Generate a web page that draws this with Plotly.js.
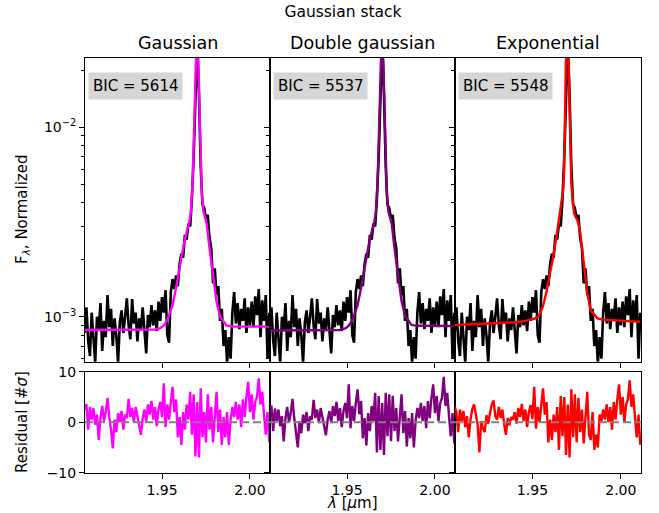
<!DOCTYPE html>
<html>
<head>
<meta charset="utf-8">
<script src="https://cdn.plot.ly/plotly-3.0.1.min.js"></script>
<style>
  body { margin: 0; background: white; }
  #chart { width: 659px; height: 513px; }
</style>
</head>
<body>
<div id="chart"></div>
<script>
'use strict';

// wavelength grid of the stacked spectrum (micron)
var lam = [
    1.906, 1.907, 1.908, 1.909, 1.910, 1.911, 1.912, 1.913, 1.914, 1.915,
    1.916, 1.917, 1.918, 1.919, 1.920, 1.921, 1.922, 1.923, 1.924, 1.925,
    1.926, 1.927, 1.928, 1.929, 1.930, 1.931, 1.932, 1.933, 1.934, 1.935,
    1.936, 1.937, 1.938, 1.939, 1.940, 1.941, 1.942, 1.943, 1.944, 1.945,
    1.946, 1.947, 1.948, 1.949, 1.950, 1.951, 1.952, 1.953, 1.954, 1.955,
    1.956, 1.957, 1.958, 1.959, 1.960, 1.961, 1.962, 1.963, 1.964, 1.965,
    1.966, 1.967, 1.968, 1.969, 1.970, 1.971, 1.972, 1.973, 1.974, 1.975,
    1.976, 1.977, 1.978, 1.979, 1.980, 1.981, 1.982, 1.983, 1.984, 1.985,
    1.986, 1.987, 1.988, 1.989, 1.990, 1.991, 1.992, 1.993, 1.994, 1.995,
    1.996, 1.997, 1.998, 1.999, 2.000, 2.001, 2.002, 2.003, 2.004, 2.005,
    2.006, 2.007, 2.008, 2.009, 2.010, 2.011
];

// normalized flux, units of 1e-3
var fluxE3 = [
    0.82, 1.12, 0.75, 0.62, 1.05, 0.80, 0.57, 1.00, 0.85, 1.18,
    0.66, 0.95, 0.78, 1.30, 0.88, 1.10, 0.70, 0.98, 0.80, 0.57,
    0.93, 1.08, 0.82, 1.00, 1.25, 0.90, 0.76, 1.24, 0.92, 1.05,
    0.74, 0.98, 0.85, 1.12, 0.80, 0.64, 1.02, 0.88, 1.15, 0.90,
    1.08, 0.84, 1.20, 0.95, 1.27, 1.05, 1.38, 0.80, 0.73, 1.35,
    1.58, 1.40, 1.65, 1.45, 1.90, 2.15, 2.05, 2.70, 2.55, 3.10,
    3.00, 4.20, 7.00, 18.0, 28.0, 15.0, 6.20, 3.90, 3.75, 3.30,
    3.45, 2.60, 2.30, 1.50, 1.80, 1.30, 1.45, 0.95, 1.10, 0.70,
    0.85, 0.57, 0.78, 0.60, 1.05, 1.35, 0.92, 1.18, 0.86, 1.10,
    0.95, 1.25, 0.82, 1.12, 0.90, 1.20, 0.88, 1.28, 1.02, 1.40,
    0.78, 1.22, 0.95, 1.30, 0.60, 1.05
];

// fitted model curves, units of 1e-3
var lamModel = [
    1.906, 1.925, 1.940, 1.946, 1.949, 1.951, 1.953, 1.9545, 1.956, 1.958,
    1.9602, 1.962, 1.964, 1.9655, 1.9664, 1.9674, 1.9679, 1.9684, 1.9689, 1.9694,
    1.9697, 1.9700, 1.9705, 1.9710, 1.9715, 1.9720, 1.9726, 1.9735, 1.9745, 1.9754,
    1.9770, 1.9782, 1.9792, 1.981, 1.983, 1.9867, 1.990, 2.000, 2.011
];
var gaussFit = [
    0.850, 0.850, 0.851, 0.856, 0.870, 0.900, 0.960, 1.04, 1.15, 1.42,
    1.90, 2.30, 2.80, 3.15, 3.55, 5.2, 7.5, 12, 21, 27,
    31, 30, 25, 17, 10, 7.0, 4.5, 3.6, 3.35, 3.10,
    2.30, 1.85, 1.56, 1.20, 1.00, 0.900, 0.888, 0.886, 0.886
];
var doubleFit = [
    0.845, 0.845, 0.846, 0.851, 0.866, 0.897, 0.958, 1.04, 1.15, 1.42,
    1.90, 2.30, 2.80, 3.15, 3.55, 5.2, 7.5, 12, 21, 27,
    31, 30, 25, 17, 10, 7.0, 4.5, 3.6, 3.35, 3.10,
    2.30, 1.86, 1.57, 1.21, 1.01, 0.905, 0.895, 0.893, 0.893
];
var expFit = [
    0.904, 0.920, 0.935, 0.950, 0.960, 0.975, 1.00, 1.05, 1.14, 1.36,
    1.75, 2.13, 2.82, 3.48, 3.90, 4.7, 5.9, 9, 16, 28,
    60, 32, 18, 10, 6.2, 5.0, 4.3, 3.52, 3.35, 3.24,
    2.80, 2.25, 1.76, 1.33, 1.08, 0.98, 0.965, 0.950, 0.940
];

// residuals in units of sigma
var gaussResid = [
    2.5, 3.6, -1.5, 3.0, 0.5, 2.8, -0.5, 1.5, -3.5, 1.0,
    3.2, 0.2, 2.0, 4.8, 1.0, -1.5, -5.2, 0.5, -2.0, 1.8,
    0.0, 2.2, -1.5, 1.5, 0.8, 4.6, 1.0, 2.8, 0.0, 3.0,
    1.2, -0.5, -2.5, 0.8, 2.5, 0.0, 3.5, 1.5, 4.2, 0.5,
    3.0, -0.8, 2.5, 4.0, 1.0, 7.7, -1.0, 3.5, 0.5, 4.0,
    7.0, 2.0, 4.5, -3.0, 1.0, -4.5, 2.0, -1.5, 3.5, 0.5,
    6.0, -2.5, 5.5, -6.8, 4.0, -7.0, 6.7, -3.0, 2.0, -4.0,
    5.5, -1.5, 3.0, -4.0, 1.5, 6.0, -2.0, 2.5, -4.5, 1.0,
    -3.0, 2.0, -4.5, 0.5, 3.0, 1.0, 4.0, 0.5, 3.5, -1.0,
    4.5, 1.0, 5.0, 8.0, 2.0, 5.5, 0.5, 4.0, 5.0, 8.7,
    3.5, 6.0, 1.5, -2.5, 2.0, -4.0
];
var doubleResid = [
    2.2, 3.3, -1.8, 2.7, 0.2, 2.5, -0.8, 1.2, -3.8, 0.8,
    3.0, 0.0, 1.8, 4.6, 0.8, -1.8, -5.0, 0.2, -2.2, 1.5,
    -0.2, 2.0, -1.8, 1.2, 0.5, 4.4, 0.8, 2.5, -0.2, 2.8,
    1.0, -0.8, -2.6, 0.5, 2.2, -0.2, 3.2, 1.2, 4.0, 0.2,
    2.8, -1.0, 2.2, 3.8, 0.8, 7.5, -1.2, 3.2, 0.2, 3.8,
    6.5, 1.6, 4.2, -3.2, 0.8, -4.6, 1.8, -1.8, 3.2, 0.2,
    5.8, -6.0, 5.2, -5.5, 3.8, -6.5, 5.8, -2.8, 5.5, -3.8,
    5.2, -1.8, 2.8, -3.8, 1.2, 5.5, -2.2, 2.2, -4.8, 0.8,
    -3.2, 1.8, -5.0, 0.2, 2.8, 0.8, 3.8, 0.2, 3.2, -1.2,
    4.2, 0.8, 4.8, 7.5, 1.8, 5.2, 0.2, 3.8, 4.8, 9.0,
    3.2, 5.8, 1.2, -2.8, 1.8, -4.2
];
var expResid = [
    3.0, 2.0, -2.0, 2.5, 0.2, 2.2, -1.0, 1.2, -3.0, 0.6,
    2.6, 3.5, 1.5, -0.5, -6.0, 0.2, -1.2, -2.0, 1.4, -0.3,
    1.8, 3.5, 4.3, 1.2, 0.5, 3.0, 0.8, 2.5, -0.4, -2.5,
    0.8, -0.6, 1.0, 0.5, 2.0, -0.3, 2.8, 1.0, 3.6, 0.2,
    2.5, -1.0, 2.0, 3.4, 0.6, 7.0, -1.3, 3.0, 0.0, 3.5,
    6.7, 1.5, 4.0, -4.0, 0.5, -3.5, 1.5, -2.0, 3.0, -5.5,
    5.2, -2.8, 5.0, -6.5, 3.5, -7.0, 6.5, -3.0, 5.5, -4.0,
    4.8, -2.0, 2.5, -4.2, 1.0, 6.0, -2.5, -3.5, 2.0, -5.5,
    -2.5, -5.0, 1.5, 0.2, 2.5, 0.5, 3.5, 0.0, 3.0, -1.5,
    4.0, 0.5, 4.5, 7.5, 1.5, 5.0, 0.0, 3.5, 4.5, 8.3,
    3.0, 5.5, 1.0, -3.0, 1.5, -4.5
];

var panelTitles = ['Gaussian', 'Double gaussian', 'Exponential'];
var bicValues = [5614, 5537, 5548];
var fitColors = ['#ff00ff', '#800080', '#ff0000'];
var fits = [gaussFit, doubleFit, expFit];
var resids = [gaussResid, doubleResid, expResid];

var W = 659, H = 513;
var cols = [[85, 270], [270, 455], [455, 641]];
var topRow = [58.3, 361.7];
var botRow = [371.7, 472.6];

function fx(px) { return px / W; }
function fy(py) { return 1 - py / H; }

function scaleE3(arr) {
    return arr.map(function (v) { return v * 1e-3; });
}

var minorLog = [6e-4, 7e-4, 8e-4, 9e-4, 2e-3, 3e-3, 4e-3, 5e-3, 6e-3, 7e-3, 8e-3, 9e-3, 2e-2];

function xAxis(col, anchor, labels) {
    return {
        domain: [fx(cols[col][0]), fx(cols[col][1])],
        anchor: anchor,
        range: [1.9062, 2.0114],
        tickvals: [1.95, 2.00],
        ticktext: ['1.95', '2.00'],
        showticklabels: labels,
        ticks: 'outside', ticklen: 5, tickwidth: 1, tickcolor: 'black',
        showline: true, mirror: true, linecolor: 'black', linewidth: 1,
        showgrid: false, zeroline: false,
        tickfont: {size: 14}
    };
}

function yTop(col, anchor) {
    return {
        domain: [fy(topRow[1]), fy(topRow[0])],
        anchor: anchor,
        type: 'log',
        range: [-3.2376, -1.636],
        tickvals: [1e-3, 1e-2],
        ticktext: ['10<sup>−3</sup>', '10<sup>−2</sup>'],
        showticklabels: col === 0,
        ticks: 'outside', ticklen: 5, tickwidth: 1, tickcolor: 'black',
        minor: {tickvals: minorLog, ticks: 'outside', ticklen: 3, tickwidth: 1, tickcolor: 'black', showgrid: false},
        showline: true, mirror: true, linecolor: 'black', linewidth: 1,
        showgrid: false, zeroline: false,
        tickfont: {size: 14}
    };
}

function yBot(col, anchor) {
    return {
        domain: [fy(botRow[1]), fy(botRow[0])],
        anchor: anchor,
        range: [-10, 10],
        tickvals: [-10, 0, 10],
        ticktext: ['−10', '0', '10'],
        showticklabels: col === 0,
        ticks: 'outside', ticklen: 5, tickwidth: 1, tickcolor: 'black',
        showline: true, mirror: true, linecolor: 'black', linewidth: 1,
        showgrid: false, zeroline: false,
        tickfont: {size: 14}
    };
}

var data = [];
var layout = {
    width: W,
    height: H,
    margin: {l: 0, r: 0, t: 0, b: 0},
    paper_bgcolor: 'white',
    plot_bgcolor: 'white',
    showlegend: false,
    font: {family: 'DejaVu Sans, sans-serif', size: 14, color: 'black'},
    title: {
        text: 'Gaussian stack',
        font: {size: 15.5, color: 'black'},
        x: fx(343), xanchor: 'center', xref: 'paper',
        y: fy(12), yanchor: 'middle', yref: 'container'
    },
    annotations: [],
    shapes: []
};

for (var i = 0; i < 3; i++) {
    var n = i + 1;
    var m = i + 4;
    var xt = 'x' + (n === 1 ? '' : n), yt = 'y' + (n === 1 ? '' : n);
    var xb = 'x' + m, yb = 'y' + m;

    data.push({
        x: lam, y: scaleE3(fluxE3), xaxis: xt, yaxis: yt,
        type: 'scatter', mode: 'lines',
        line: {color: 'black', width: 2.6},
        hoverinfo: 'skip'
    });
    data.push({
        x: lamModel, y: scaleE3(fits[i]), xaxis: xt, yaxis: yt,
        type: 'scatter', mode: 'lines',
        line: {color: fitColors[i], width: 2.4},
        hoverinfo: 'skip'
    });
    data.push({
        x: lam, y: resids[i], xaxis: xb, yaxis: yb,
        type: 'scatter', mode: 'lines',
        line: {color: fitColors[i], width: 2.4},
        hoverinfo: 'skip'
    });

    layout['xaxis' + (n === 1 ? '' : n)] = xAxis(i, yt, false);
    layout['yaxis' + (n === 1 ? '' : n)] = yTop(i, xt);
    layout['xaxis' + m] = xAxis(i, yb, true);
    layout['yaxis' + m] = yBot(i, xb);

    layout.annotations.push({
        text: panelTitles[i],
        xref: 'paper', yref: 'paper',
        x: fx((cols[i][0] + cols[i][1]) / 2), y: fy(43),
        xanchor: 'center', yanchor: 'middle',
        showarrow: false,
        font: {size: 17.5}
    });
    layout.annotations.push({
        text: 'BIC = ' + bicValues[i],
        xref: xt + ' domain', yref: yt + ' domain',
        x: 0.016, y: 0.955,
        xanchor: 'left', yanchor: 'top',
        showarrow: false,
        bgcolor: '#d6d6d6',
        borderpad: 4,
        font: {size: 15}
    });
    layout.shapes.push({
        type: 'line',
        xref: xb + ' domain', yref: yb,
        x0: 0, x1: 1, y0: 0, y1: 0,
        line: {color: '#808080', width: 2, dash: '8px,4px'}
    });
}

layout.annotations.push({
    text: 'F<sub><i>λ</i></sub>, Normalized',
    xref: 'paper', yref: 'paper',
    x: fx(22), y: fy(210),
    xanchor: 'center', yanchor: 'middle',
    textangle: -90, showarrow: false,
    font: {size: 15}
});
layout.annotations.push({
    text: 'Residual [#<i>σ</i>]',
    xref: 'paper', yref: 'paper',
    x: fx(22), y: fy(422),
    xanchor: 'center', yanchor: 'middle',
    textangle: -90, showarrow: false,
    font: {size: 15}
});
layout.annotations.push({
    text: '<i>λ</i> [<i>μ</i>m]',
    xref: 'paper', yref: 'paper',
    x: fx(352), y: fy(503),
    xanchor: 'center', yanchor: 'middle',
    showarrow: false,
    font: {size: 15}
});

Plotly.newPlot('chart', data, layout, {displayModeBar: false, staticPlot: true});
</script>
</body>
</html>
